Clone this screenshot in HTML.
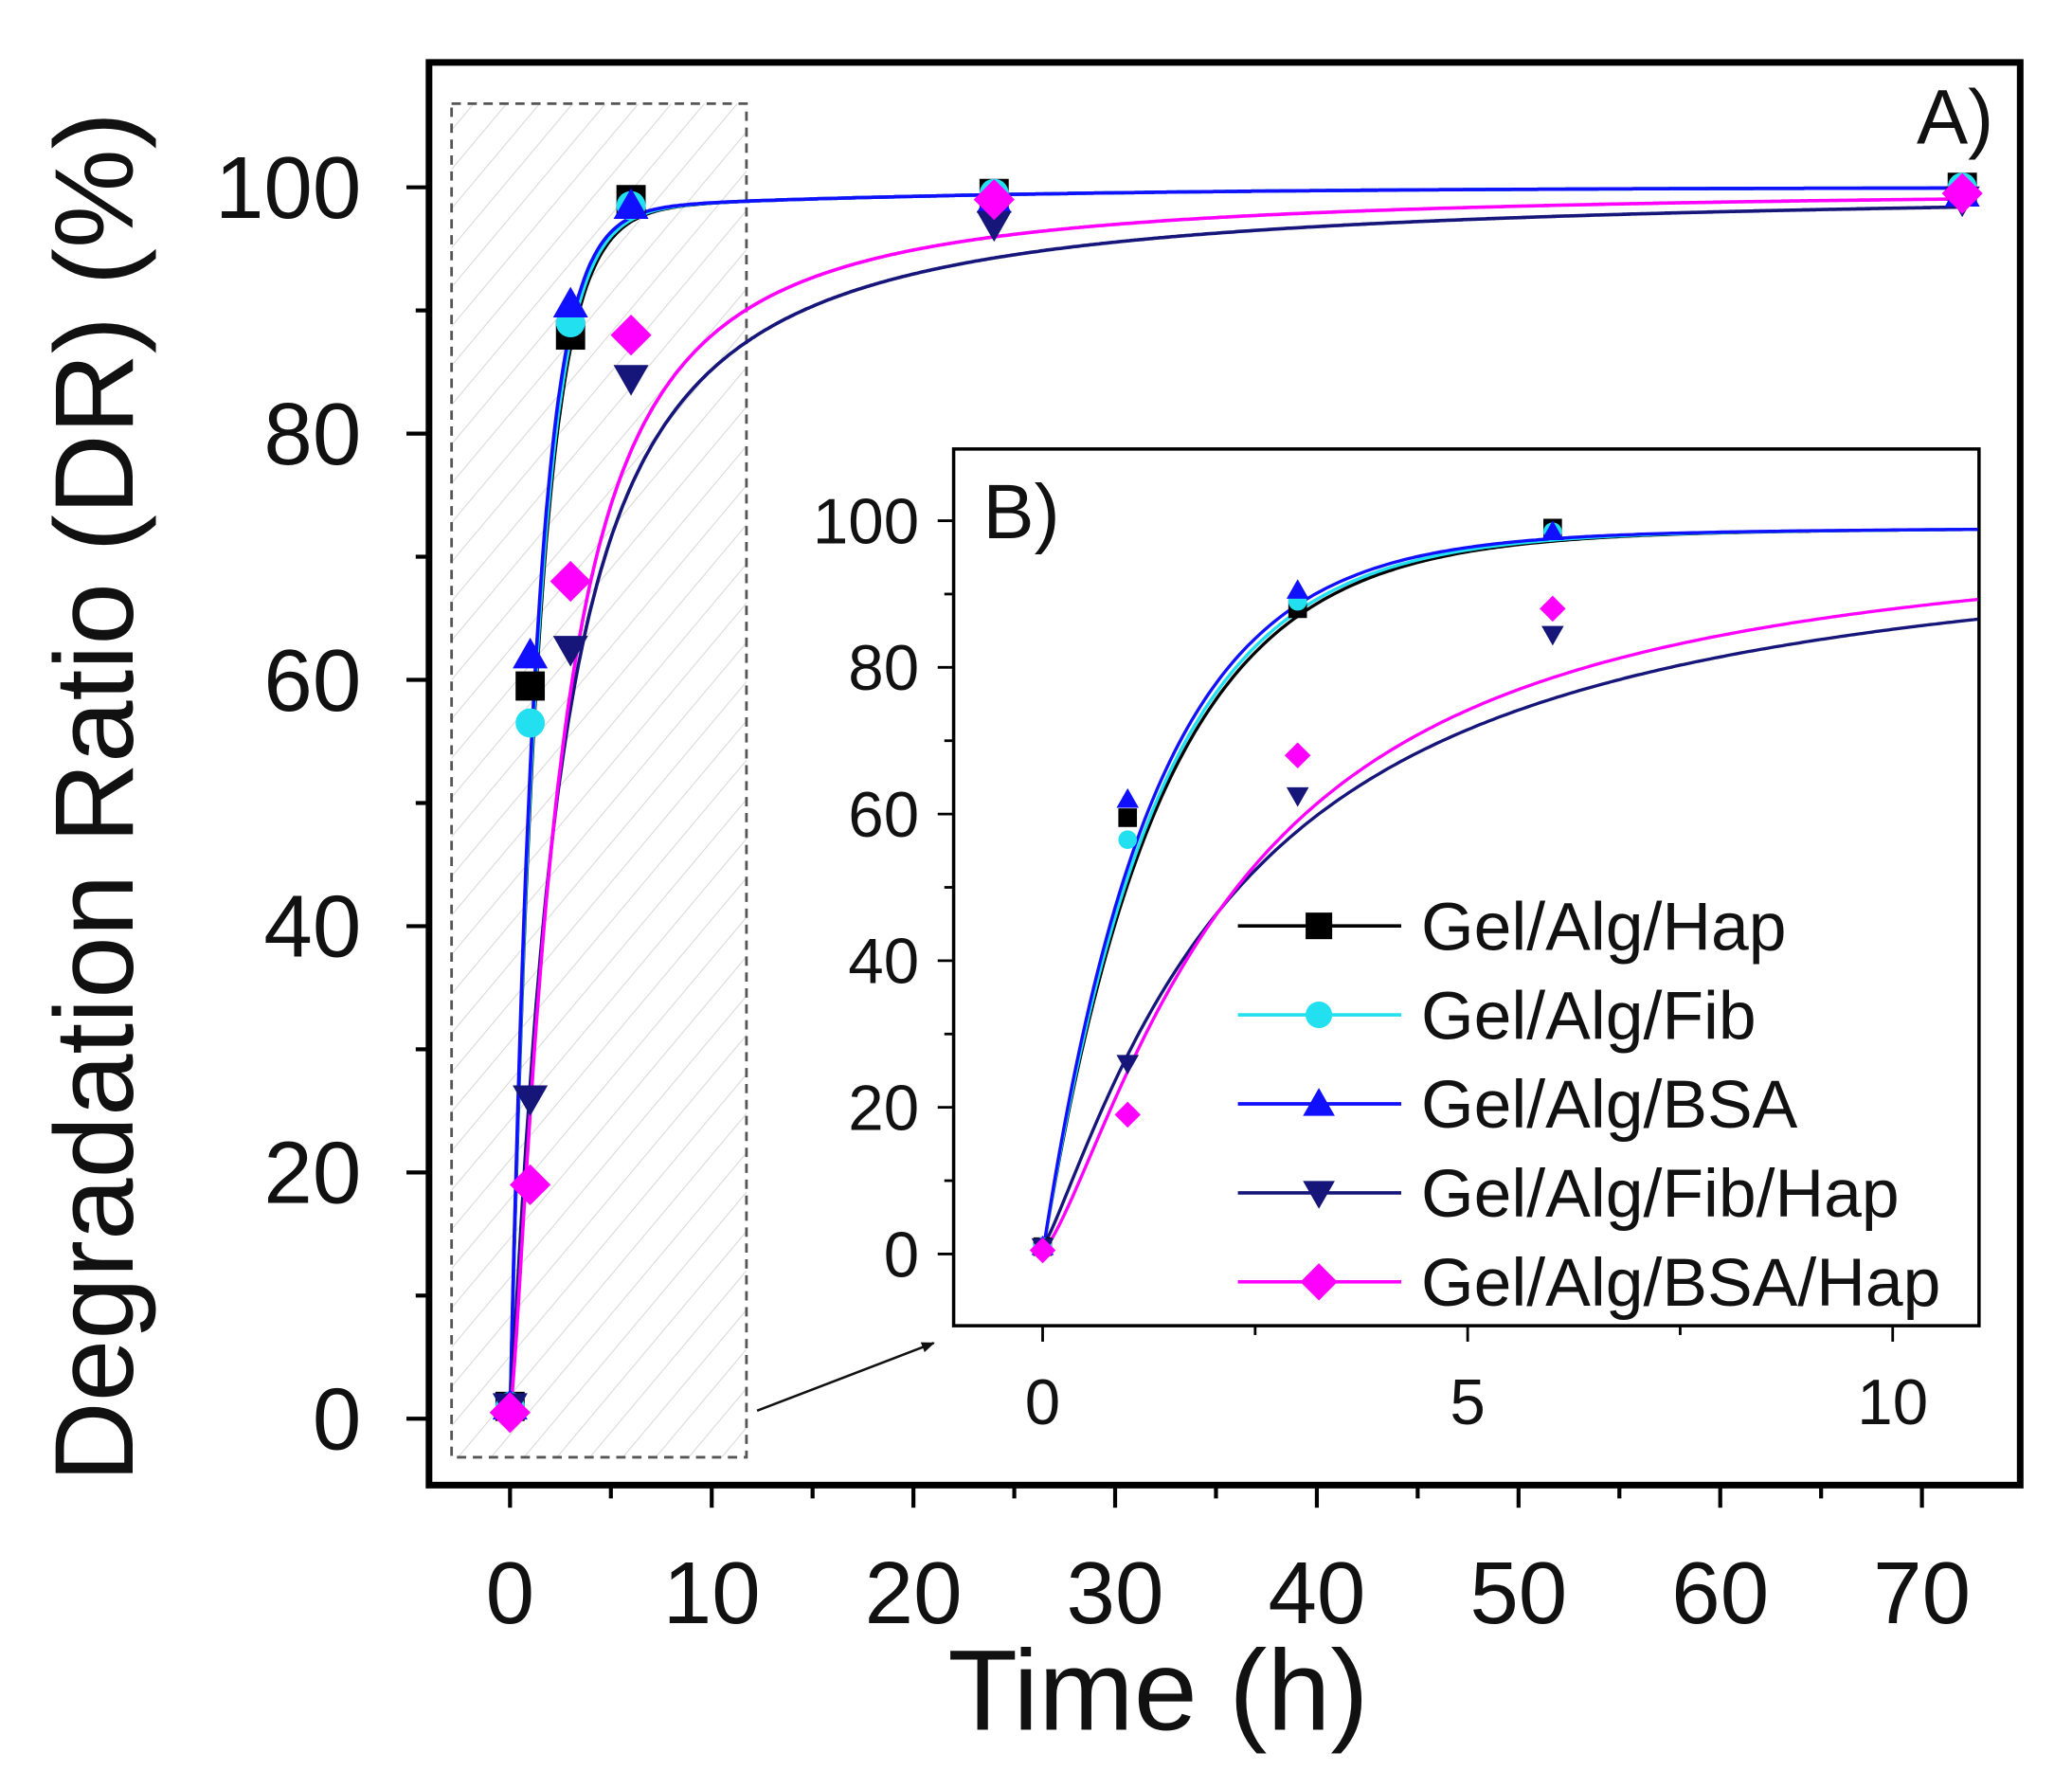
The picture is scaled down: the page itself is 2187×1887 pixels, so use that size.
<!DOCTYPE html>
<html><head><meta charset="utf-8"><style>
html,body{margin:0;padding:0;background:#fff;}
svg{display:block;}
text{font-family:"Liberation Sans",Arial,sans-serif;fill:#111;}
</style></head><body>
<svg id="s" width="2187" height="1887" viewBox="0 0 1560 1346" preserveAspectRatio="none" xmlns="http://www.w3.org/2000/svg">
<defs>
<pattern id="h" width="19" height="19" patternUnits="userSpaceOnUse" patternTransform="rotate(40)">
<line x1="0" y1="0" x2="0" y2="19" stroke="#d8d8d8" stroke-width="1.5"/>
</pattern>
<marker id="ar" markerWidth="10" markerHeight="10" refX="9" refY="5" orient="auto" markerUnits="userSpaceOnUse"><path d="M0,1 L10,5 L0,9 z" fill="#111"/></marker>
</defs>
<rect x="340" y="78" width="222" height="1019" fill="url(#h)" stroke="#555" stroke-width="2" stroke-dasharray="7,5"/>
<rect x="323" y="47" width="1198" height="1071" fill="none" stroke="#000" stroke-width="5"/>
<g id="mainticks" stroke="#000" stroke-width="3"></g>
<g id="maintext"></g>
<text x="872" y="1302" font-size="86" text-anchor="middle">Time (h)</text>
<text transform="translate(100,600) rotate(-90)" font-size="84" text-anchor="middle">Degradation Ratio (DR) (%)</text>
<text x="1443" y="108" font-size="58">A)</text>
<g id="maincurves" fill="none" stroke-width="2.6"></g>
<g id="mainmarks"></g>
<line x1="570" y1="1062" x2="703" y2="1011" stroke="#111" stroke-width="1.8" marker-end="url(#ar)"/>
<rect x="718" y="338" width="772" height="660" fill="#fff" stroke="#000" stroke-width="2.5"/>
<g id="insticks" stroke="#000" stroke-width="2"></g>
<g id="instext"></g>
<text x="740" y="405" font-size="58">B)</text>
<g id="inscurves" fill="none" stroke-width="2.4"></g>
<g id="insmarks"></g>
<g id="legend"></g>
</svg>
<script>
var NS="http://www.w3.org/2000/svg";
function el(p,t,a,txt){var e=document.createElementNS(NS,t);for(var k in a)e.setAttribute(k,a[k]);if(txt!==undefined)e.textContent=txt;document.getElementById(p).appendChild(e);return e;}
function MX(t){return 384+t*15.186;} function MY(v){return 1068-v*9.27;}
function IX(t){return 785+t*64;} function IY(v){return 944-v*5.52;}
for(var v=0;v<=100;v+=10){var y=MY(v);el("mainticks","line",{x1:323,x2:v%20==0?306:313,y1:y,y2:y});
 if(v%20==0)el("maintext","text",{x:272,y:y+23,"font-size":66,"text-anchor":"end"},v);}
for(var t=0;t<=70;t+=5){var x=MX(t);el("mainticks","line",{x1:x,x2:x,y1:1118,y2:t%10==0?1135:1128});
 if(t%10==0)el("maintext","text",{x:x,y:1222,"font-size":66,"text-anchor":"middle"},t);}
for(var v=0;v<=100;v+=10){var y=IY(v);el("insticks","line",{x1:718,x2:v%20==0?706:711,y1:y,y2:y});
 if(v%20==0)el("instext","text",{x:692,y:y+17,"font-size":48,"text-anchor":"end"},v);}
for(var t=0;t<=10;t+=2.5){var x=IX(t);el("insticks","line",{x1:x,x2:x,y1:998,y2:t%5==0?1010:1005});
 if(t%5==0)el("instext","text",{x:x,y:1072,"font-size":48,"text-anchor":"middle"},t);}
var S=[
 {c:"#000000",m:"sq",f:function(t){return 98*(1-Math.exp(-0.72*t))+2*(1-Math.exp(-t/20));},d:[1,59.5,88,99,99.5,100],n:"Gel/Alg/Hap"},
 {c:"#22e0f0",m:"ci",f:function(t){return 98*(1-Math.exp(-0.74*t))+2*(1-Math.exp(-t/20));},d:[1,56.5,89,98.5,99.5,100],n:"Gel/Alg/Fib"},
 {c:"#1010ff",m:"tu",f:function(t){return 98*(1-Math.exp(-0.77*t))+2*(1-Math.exp(-t/20));},d:[1,62,90.5,98.5,99,99.5],n:"Gel/Alg/BSA"},
 {c:"#15157a",m:"td",f:function(t){var r=Math.pow(t/2.35,1.2);return 1+99*r/(1+r);},d:[1,26,62.5,84.5,97,99],n:"Gel/Alg/Fib/Hap"},
 {c:"#ff00ff",m:"di",f:function(t){var r=Math.pow(t/2.3,1.35);return 0.5+99.5*r/(1+r);},d:[0.5,19,68,88,99,99.5],n:"Gel/Alg/BSA/Hap"}];
var T=[0,1,3,6,24,72];
function mk(g,type,x,y,s,c){
 if(type=="sq")el(g,"rect",{x:x-s/2,y:y-s/2,width:s,height:s,fill:c});
 else if(type=="ci")el(g,"circle",{cx:x,cy:y,r:s/2,fill:c});
 else if(type=="tu")el(g,"path",{d:"M"+x+","+(y-s*0.6)+"L"+(x+s*0.6)+","+(y+s*0.45)+"L"+(x-s*0.6)+","+(y+s*0.45)+"Z",fill:c});
 else if(type=="td")el(g,"path",{d:"M"+x+","+(y+s*0.6)+"L"+(x+s*0.6)+","+(y-s*0.45)+"L"+(x-s*0.6)+","+(y-s*0.45)+"Z",fill:c});
 else el(g,"path",{d:"M"+x+","+(y-s*0.7)+"L"+(x+s*0.7)+","+y+"L"+x+","+(y+s*0.7)+"L"+(x-s*0.7)+","+y+"Z",fill:c});}
S.forEach(function(s){
 var p="";for(var i=0;i<=720;i++){var t=i*0.1;p+=(i?"L":"M")+MX(t).toFixed(1)+","+MY(s.f(t)).toFixed(1);}
 el("maincurves","path",{d:p,stroke:s.c});
 p="";for(var i=0;i<=220;i++){var t=i*0.05;p+=(i?"L":"M")+IX(t).toFixed(1)+","+IY(s.f(t)).toFixed(1);}
 el("inscurves","path",{d:p,stroke:s.c});
});
S.forEach(function(s){T.forEach(function(t,i){mk("mainmarks",s.m,MX(t),MY(s.d[i]),22,s.c);
 if(t<=10)mk("insmarks",s.m,IX(t),IY(s.d[i]),14,s.c);});});
S.forEach(function(s,i){var y=697+i*67;
 el("legend","line",{x1:932,x2:1055,y1:y,y2:y,stroke:s.c,"stroke-width":2.6});
 mk("legend",s.m,993,y,20,s.c);
 el("legend","text",{x:1070,y:y+18,"font-size":51},s.n);});
</script>
</body></html>
